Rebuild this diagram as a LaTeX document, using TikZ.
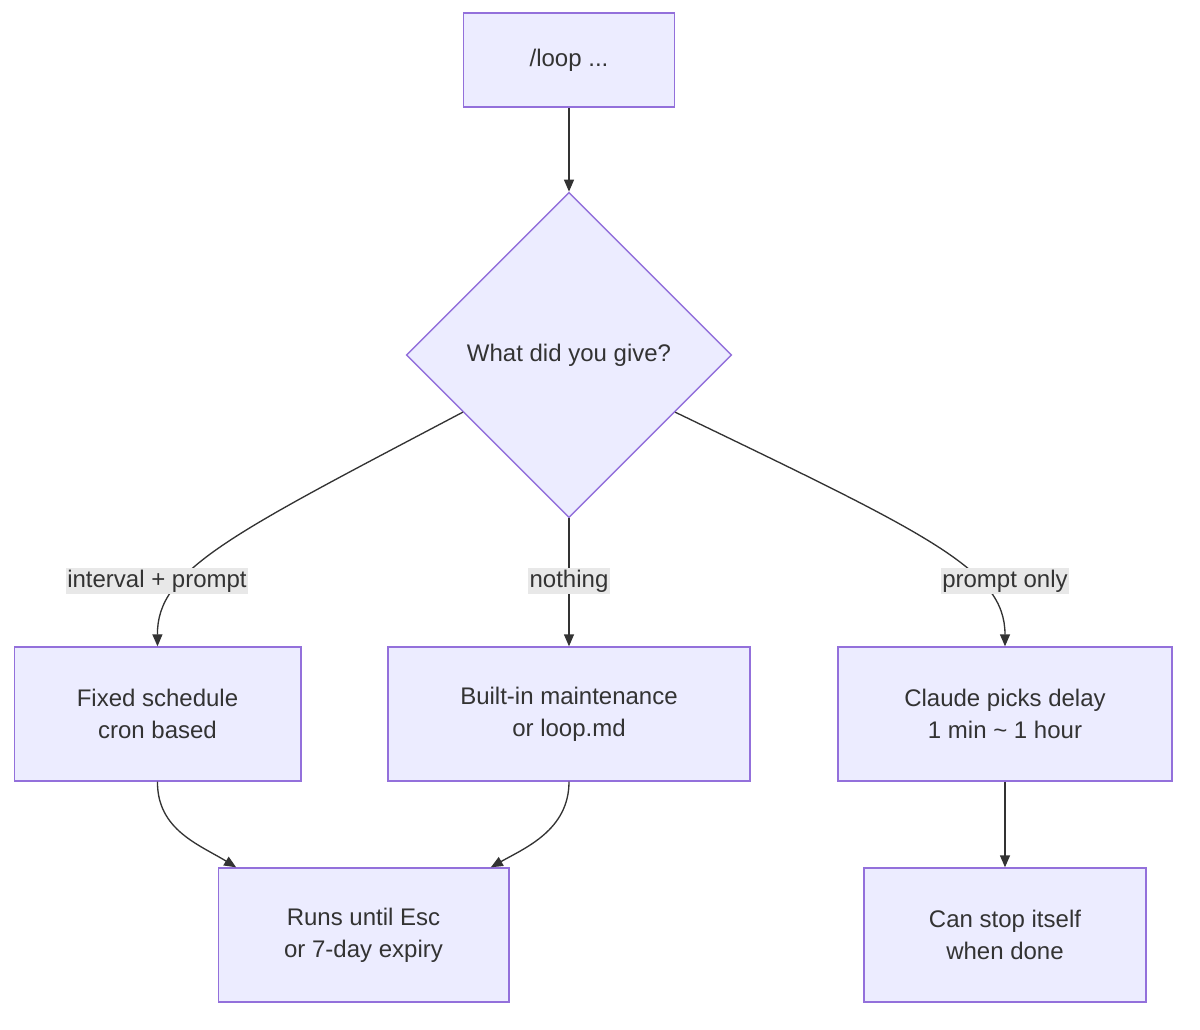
\documentclass[tikz,border=0pt]{standalone}
\usepackage{fontspec}
\setmainfont{Liberation Sans}
\usetikzlibrary{shapes.geometric, arrows.meta, calc}
\definecolor{boxfill}{HTML}{ECECFF}
\definecolor{boxline}{HTML}{9370DB}
\definecolor{edgeline}{HTML}{333333}
\definecolor{labelfill}{HTML}{E8E8E8}

\tikzset{
	box/.style={draw=boxline, fill=boxfill, line width=1pt, align=center, font=\fontsize{18}{24}\selectfont, text=edgeline},
	edge/.style={draw=edgeline, line width=1pt, -{Triangle[length=9pt, width=7.5pt]}},
	elabel/.style={fill=labelfill, inner sep=1pt, font=\fontsize{18}{22}\selectfont, text=edgeline}
}

\begin{document}
\begin{tikzpicture}[x=0.75pt, y=-0.75pt]
		\useasboundingbox (0,0) rectangle (1200,1030);
		% boxes
		\node[box, minimum width=158pt, minimum height=70.5pt] (loop) at (569,60) {/loop ...};
		\node[box, diamond, aspect=1, inner sep=0pt, minimum width=244pt, minimum height=244pt] (dia) at (569,355) {What did you give?};
		\node[box, minimum width=215pt, minimum height=100.5pt] (fixed) at (157.5,714) {Fixed schedule\\cron based};
		\node[box, minimum width=271.5pt, minimum height=100.5pt] (builtin) at (569,714) {Built-in maintenance\\or loop.md};
		\node[box, minimum width=250.5pt, minimum height=100.5pt] (claude) at (1005,714) {Claude picks delay\\1 min \textasciitilde{} 1 hour};
		\node[box, minimum width=218pt, minimum height=100.5pt] (runs) at (363.5,935) {Runs until Esc\\or 7-day expiry};
		\node[box, minimum width=211.5pt, minimum height=100.5pt] (stop) at (1005,935) {Can stop itself\\when done};
		% connectors
		\draw[edge] (loop) -- (dia);
		\draw[edge] ($(dia.west)!0.35!(dia.south)$) .. controls (230,535) and (157,570) .. (fixed.north);
		\draw[edge] (dia.south) -- (builtin.north);
		\draw[edge] ($(dia.east)!0.35!(dia.south)$) .. controls (930,535) and (1005,570) .. (claude.north);
		\draw[edge] (fixed.south) .. controls (157,830) and (200,845) .. ([xshift=14pt]runs.north west);
		\draw[edge] (builtin.south) .. controls (569,830) and (525,848) .. ([xshift=-14pt]runs.north east);
		\draw[edge] (claude) -- (stop);
		% labels
		\node[elabel] (lint) at (157,581) {interval + prompt};
		\node[elabel] (lnot) at (569,581) {nothing};
		\node[elabel] (lpro) at (1005,581) {prompt only};
	\end{tikzpicture}
\end{document}
